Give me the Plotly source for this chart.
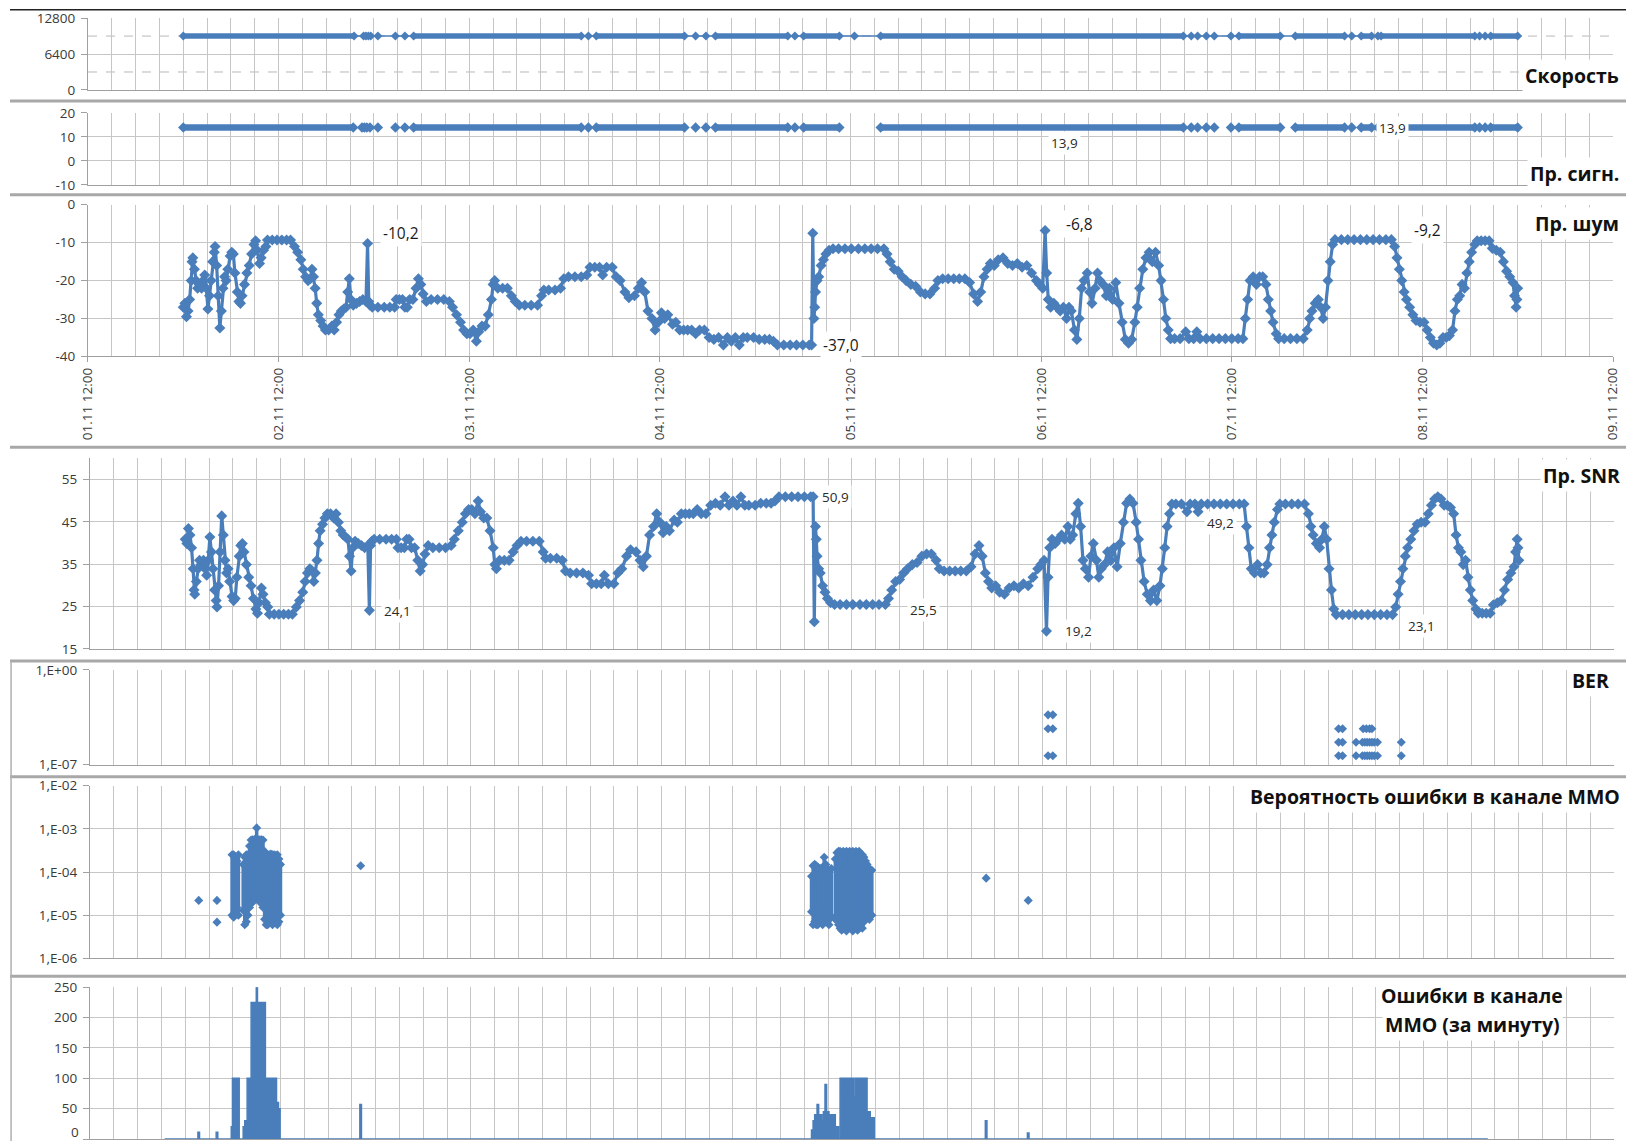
import pandas as pd
import plotly.graph_objects as go

# Target geometry is given in page pixels of a 1626 x 1142 picture.  The page keeps the
# browser's 8 px body margin and the captured view is 1642 x 1158 scaled down to
# 1626 x 1142, so page positions are converted to figure pixels below.
PAGE_W, PAGE_H = 1626, 1142
OFF = 8
SX = PAGE_W / (PAGE_W + 2 * OFF)
SY = PAGE_H / (PAGE_H + 2 * OFF)
FW = PAGE_W + OFF
FH = PAGE_H + OFF

BLUE = "#4A7EBB"
GRID = "#C6C6C6"
AXIS = "#A0A0A0"
FONT = "Open Sans, Noto Sans, sans-serif"
TICK_FONT = dict(family=FONT, size=13.5, color="#3A3A3A")
TITLE_FONT = dict(family=FONT, size=19.5, color="#111111")

X_START = pd.Timestamp("2013-11-01 12:00")
X_END = pd.Timestamp("2013-11-09 12:00")
T0 = pd.Timestamp("2013-11-02 00:00")          # hour 0 of the log

# ---------------- data (hours since T0) ----------------
SPEED_BPS = 9600
SPEED_RUN_START = [0.0, 29.0, 52.0, 67.0, 78.1, 87.8, 132.9, 140.0, 148.3, 150.8, 164.6]
SPEED_RUN_END = [21.5, 50.1, 63.1, 76.1, 82.6, 125.9, 138.1, 146.2, 149.6, 162.6, 168.0]
SPEED_SINGLE_H = [22.7, 23.0, 23.3, 23.6, 24.5, 26.7, 27.9, 51.0, 64.5, 65.8, 77.0,
                  84.5, 126.9, 127.7, 128.8, 129.8, 131.9, 147.1, 150.4, 163.2, 163.9]

SIGNAL_DB = 13.9
SIGNAL_RUN_START = [0.0, 29.0, 52.0, 67.0, 78.1, 87.8, 132.9, 140.0, 148.3, 150.8, 164.6]
SIGNAL_RUN_END = [21.4, 50.1, 63.1, 76.1, 82.6, 125.9, 138.1, 146.2, 149.6, 162.6, 168.0]
SIGNAL_SINGLE_H = [22.5, 22.8, 23.1, 23.5, 24.5, 26.7, 27.9, 51.0, 64.5, 65.8, 77.0,
                   126.9, 127.7, 128.8, 129.8, 131.9, 147.1, 150.4, 163.2, 163.9]
SIGNAL_LABEL_H = [110.9, 152.3]

NOISE_H = [
    0.0, 0.2, 0.4, 0.6, 0.8, 1.0, 1.1, 1.2, 1.4, 1.6,
    1.8, 2.0, 2.3, 2.5, 2.7, 2.9, 3.1, 3.3, 3.5, 3.7,
    3.9, 4.0, 4.2, 4.4, 4.6, 4.8, 5.0, 5.2, 5.4, 5.6,
    5.9, 6.1, 6.3, 6.5, 6.8, 7.0, 7.2, 7.4, 7.7, 8.0,
    8.3, 8.6, 8.9, 9.1, 9.3, 9.6, 9.8, 10.1, 10.4, 10.6,
    11.2, 11.8, 12.4, 13.0, 13.5, 14.0, 14.4, 14.8, 15.1, 15.4,
    15.7, 16.0, 16.2, 16.4, 16.6, 16.8, 17.0, 17.3, 17.6, 17.9,
    18.3, 18.7, 19.0, 19.3, 19.6, 19.9, 20.2, 20.5, 20.7, 20.9,
    21.1, 21.4, 21.8, 22.2, 22.6, 23.0, 23.2, 23.35, 23.5, 23.8,
    24.5, 25.3, 26.0, 26.6, 26.8, 27.2, 27.6, 27.9, 28.2, 28.5,
    28.9, 29.3, 29.6, 29.9, 30.2, 30.6, 31.2, 32.0, 32.8, 33.5,
    33.9, 34.4, 34.9, 35.3, 35.7, 36.1, 36.5, 36.9, 37.2, 37.6,
    38.0, 38.4, 38.8, 39.0, 39.2, 39.6, 40.2, 40.8, 41.3, 41.8,
    42.3, 43.0, 43.8, 44.6, 45.1, 45.4, 46.0, 46.8, 47.5, 47.9,
    48.5, 49.3, 50.1, 50.8, 51.2, 51.8, 52.4, 52.8, 53.3, 54.0,
    54.5, 55.0, 55.6, 56.1, 56.8, 57.3, 57.7, 58.1, 58.5, 59.0,
    59.4, 59.8, 60.2, 60.6, 61.0, 61.6, 62.0, 62.5, 63.0, 63.5,
    64.0, 64.5, 65.0, 65.6, 66.2, 66.8, 67.4, 68.0, 68.5, 69.0,
    69.5, 70.0, 70.5, 71.0, 71.8, 72.5, 73.2, 73.8, 74.3, 74.8,
    75.6, 76.4, 77.2, 78.0, 78.8, 79.1, 79.25, 79.4, 79.5, 79.6,
    79.8, 80.0, 80.3, 80.6, 80.9, 81.3, 81.8, 82.5, 83.3, 84.1,
    85.0, 85.8, 86.6, 87.4, 88.2, 88.6, 89.0, 89.5, 90.0, 90.5,
    91.0, 91.6, 92.2, 92.8, 93.4, 94.0, 94.6, 95.0, 95.6, 96.3,
    97.0, 97.7, 98.4, 99.0, 99.5, 100.0, 100.4, 100.8, 101.2, 101.6,
    102.1, 102.6, 103.2, 103.8, 104.4, 105.0, 105.6, 106.2, 106.8, 107.4,
    107.8, 108.2, 108.5, 108.7, 108.9, 109.2, 109.6, 110.0, 110.4, 110.8,
    111.2, 111.5, 111.8, 112.2, 112.5, 112.8, 113.1, 113.4, 113.8, 114.1,
    114.4, 114.8, 115.1, 115.4, 115.8, 116.2, 116.6, 117.0, 117.4, 117.8,
    118.2, 118.6, 119.0, 119.4, 119.8, 120.1, 120.4, 120.8, 121.2, 121.6,
    122.0, 122.4, 122.8, 123.1, 123.4, 123.7, 124.0, 124.3, 124.8, 125.5,
    126.2, 126.6, 127.2, 127.6, 128.0, 128.8, 129.6, 130.4, 131.2, 132.0,
    132.8, 133.4, 133.7, 134.0, 134.3, 134.7, 135.1, 135.5, 135.9, 136.3,
    136.6, 136.9, 137.2, 137.6, 137.9, 138.6, 139.4, 140.2, 141.0, 141.5,
    141.8, 142.1, 142.5, 142.9, 143.2, 143.5, 143.8, 144.1, 144.4, 144.7,
    145.0, 145.8, 146.6, 147.4, 148.2, 149.0, 149.8, 150.6, 151.4, 152.1,
    152.5, 152.8, 153.1, 153.4, 153.7, 154.0, 154.4, 154.8, 155.2, 155.7,
    156.2, 156.6, 157.0, 157.4, 157.8, 158.2, 158.6, 159.0, 159.4, 159.8,
    160.1, 160.4, 160.7, 161.0, 161.3, 161.6, 161.9, 162.2, 162.6, 162.9,
    163.4, 163.9, 164.4, 164.8, 165.3, 165.8, 166.2, 166.6, 167.0, 167.4,
    167.6, 167.8, 167.9, 168.0,
]

NOISE_DB = [
    -27, -26, -29.5, -28, -25, -20, -15, -14, -17, -20,
    -22, -21, -22, -20, -18.5, -22, -27.5, -24, -20, -15,
    -12.5, -11, -16, -24, -32.5, -28, -22, -19, -20, -17,
    -13.5, -12.5, -13, -18, -23, -25.5, -26, -24, -21, -18,
    -16, -13, -10.5, -9.5, -12, -15.5, -14, -12, -11, -9.3,
    -9.3, -9.3, -9.3, -9.3, -9.3, -11, -12.5, -14.5, -17, -19,
    -20, -19.5, -17, -19, -22, -26, -29, -30.5, -32, -33,
    -33, -32, -33, -31, -29, -28, -27.5, -27, -23, -19.5,
    -25, -26.5, -26, -25.5, -25, -25.5, -10.2, -25.5, -26.5, -27,
    -27, -27, -27, -27, -25, -25, -25, -27, -27, -25,
    -25, -22, -19.5, -21, -23.5, -25.5, -25, -25, -25, -25.5,
    -27, -29, -31, -33, -34, -34, -33, -36, -33.5, -32,
    -32, -29, -25, -21, -20, -22, -22, -22, -24, -25.5,
    -26.5, -26.5, -26.5, -26.5, -24, -22.5, -22.5, -22.5, -22, -19.5,
    -19, -19, -19, -18.5, -16.5, -16.5, -16.5, -18.5, -16.5, -16.5,
    -19, -20, -23, -24.5, -24, -22, -20.5, -23, -28, -30,
    -33, -31, -28.5, -30, -29, -31.5, -31, -33, -33, -33,
    -33, -34, -33, -33, -35, -35.5, -35, -37, -35, -36,
    -35, -37, -35, -35, -35, -35.5, -35.5, -35.5, -36, -37,
    -37, -37, -37, -37, -37, -37.0, -7.5, -30, -27, -23,
    -20, -19, -16, -14.5, -13, -12, -11.6, -11.6, -11.6, -11.6,
    -11.6, -11.6, -11.6, -11.6, -11.6, -13, -15, -17, -17.5, -19,
    -20, -21, -21.5, -23, -23.5, -23.5, -22, -20, -19.5, -19.5,
    -19.5, -19.5, -19.5, -20.5, -23.5, -25.5, -23, -19, -17, -15.5,
    -16, -14.5, -14, -15.5, -16, -15.5, -16.5, -16, -18, -20,
    -21, -22, -6.8, -18, -25, -27, -26, -27, -28, -27,
    -30, -27, -28, -33, -35.5, -30, -22, -20, -18, -23,
    -26, -22, -18, -20, -21, -24, -22, -25, -20.5, -26,
    -31, -35.5, -36.5, -35.5, -31, -27, -22, -17, -14, -12.5,
    -15, -12.5, -16, -20, -25, -30, -33, -35.3, -35.3, -35.3,
    -33.5, -35.3, -35.3, -33.5, -35.3, -35.3, -35.3, -35.3, -35.3, -35.3,
    -35.3, -35.3, -30, -25, -20, -19, -21, -19, -19, -21,
    -25, -28, -31, -34, -35.3, -35.3, -35.3, -35.3, -35.3, -33,
    -30, -28, -26, -25, -27, -30, -27, -20, -15, -10.5,
    -9.2, -9.2, -9.2, -9.2, -9.2, -9.2, -9.2, -9.2, -9.2, -9.2,
    -11, -14, -17, -20, -23, -25, -27, -29, -30.5, -31,
    -31, -33, -35, -36.5, -37, -36.5, -35, -35, -34.5, -33,
    -28, -25, -24, -21, -22, -18, -15, -12.5, -10.5, -9.5,
    -9.5, -9.5, -9.5, -11.5, -12, -12.5, -15, -17.5, -19, -20.5,
    -24, -27, -25, -22,
]
NOISE_LABEL_H = [23.2, 79.1, 108.5, 152.1]

SNR_DB = [
    40.9, 39.9, 43.4, 41.9, 38.9, 33.9, 28.9, 27.9, 30.9, 33.9,
    35.9, 34.9, 35.9, 33.9, 32.4, 35.9, 41.4, 37.9, 33.9, 28.9,
    26.4, 24.9, 29.9, 37.9, 46.4, 41.9, 35.9, 32.9, 33.9, 30.9,
    27.4, 26.4, 26.9, 31.9, 36.9, 39.4, 39.9, 37.9, 34.9, 31.9,
    29.9, 26.9, 24.4, 23.4, 25.9, 29.4, 27.9, 25.9, 24.9, 23.2,
    23.2, 23.2, 23.2, 23.2, 23.2, 24.9, 26.4, 28.4, 30.9, 32.9,
    33.9, 33.4, 30.9, 32.9, 35.9, 39.9, 42.9, 44.4, 45.9, 46.9,
    46.9, 45.9, 46.9, 44.9, 42.9, 41.9, 41.4, 40.9, 36.9, 33.4,
    38.9, 40.4, 39.9, 39.4, 38.9, 39.4, 24.1, 39.4, 40.4, 40.9,
    40.9, 40.9, 40.9, 40.9, 38.9, 38.9, 38.9, 40.9, 40.9, 38.9,
    38.9, 35.9, 33.4, 34.9, 37.4, 39.4, 38.9, 38.9, 38.9, 39.4,
    40.9, 42.9, 44.9, 46.9, 47.9, 47.9, 46.9, 49.9, 47.4, 45.9,
    45.9, 42.9, 38.9, 34.9, 33.9, 35.9, 35.9, 35.9, 37.9, 39.4,
    40.4, 40.4, 40.4, 40.4, 37.9, 36.4, 36.4, 36.4, 35.9, 33.4,
    32.9, 32.9, 32.9, 32.4, 30.4, 30.4, 30.4, 32.4, 30.4, 30.4,
    32.9, 33.9, 36.9, 38.4, 37.9, 35.9, 34.4, 36.9, 41.9, 43.9,
    46.9, 44.9, 42.4, 43.9, 42.9, 45.4, 44.9, 46.9, 46.9, 46.9,
    46.9, 47.9, 46.9, 46.9, 48.9, 49.4, 48.9, 50.9, 48.9, 49.9,
    48.9, 50.9, 48.9, 48.9, 48.9, 49.4, 49.4, 49.4, 49.9, 50.9,
    50.9, 50.9, 50.9, 50.9, 50.9, 50.9, 21.4, 43.9, 40.9, 36.9,
    33.9, 32.9, 29.9, 28.4, 26.9, 25.9, 25.5, 25.5, 25.5, 25.5,
    25.5, 25.5, 25.5, 25.5, 25.5, 26.9, 28.9, 30.9, 31.4, 32.9,
    33.9, 34.9, 35.4, 36.9, 37.4, 37.4, 35.9, 33.9, 33.4, 33.4,
    33.4, 33.4, 33.4, 34.4, 37.4, 39.4, 36.9, 32.9, 30.9, 29.4,
    29.9, 28.4, 27.9, 29.4, 29.9, 29.4, 30.4, 29.9, 31.9, 33.9,
    34.9, 35.9, 19.2, 31.9, 38.9, 40.9, 39.9, 40.9, 41.9, 40.9,
    43.9, 40.9, 41.9, 46.9, 49.4, 43.9, 35.9, 33.9, 31.9, 36.9,
    39.9, 35.9, 31.9, 33.9, 34.9, 37.9, 35.9, 38.9, 34.4, 39.9,
    44.9, 49.4, 50.4, 49.4, 44.9, 40.9, 35.9, 30.9, 27.9, 26.4,
    28.9, 26.4, 29.9, 33.9, 38.9, 43.9, 46.9, 49.2, 49.2, 49.2,
    47.4, 49.2, 49.2, 47.4, 49.2, 49.2, 49.2, 49.2, 49.2, 49.2,
    49.2, 49.2, 43.9, 38.9, 33.9, 32.9, 34.9, 32.9, 32.9, 34.9,
    38.9, 41.9, 44.9, 47.9, 49.2, 49.2, 49.2, 49.2, 49.2, 46.9,
    43.9, 41.9, 39.9, 38.9, 40.9, 43.9, 40.9, 33.9, 28.9, 24.4,
    23.1, 23.1, 23.1, 23.1, 23.1, 23.1, 23.1, 23.1, 23.1, 23.1,
    24.9, 27.9, 30.9, 33.9, 36.9, 38.9, 40.9, 42.9, 44.4, 44.9,
    44.9, 46.9, 48.9, 50.4, 50.9, 50.4, 48.9, 48.9, 48.4, 46.9,
    41.9, 38.9, 37.9, 34.9, 35.9, 31.9, 28.9, 26.4, 24.4, 23.4,
    23.4, 23.4, 23.4, 25.4, 25.9, 26.4, 28.9, 31.4, 32.9, 34.4,
    37.9, 40.9, 38.9, 35.9,
]
SNR_LABEL_H = [23.2, 79.1, 88.2, 108.5, 130.4, 152.1]

BER_H = [108.7, 109.3,
         108.7, 109.3, 145.3, 145.8, 148.4, 148.8, 149.2, 149.5,
         145.3, 145.8, 147.5, 148.3, 148.6, 148.9, 149.2, 149.5, 149.8, 150.2, 153.2,
         108.7, 109.3, 145.3, 145.8, 147.5, 148.3, 148.6, 148.9, 149.2, 149.5, 149.8, 150.2, 153.2]
BER_VAL = [4.8e-4, 4.8e-4,
           4.5e-5, 4.5e-5, 4.5e-5, 4.5e-5, 4.5e-5, 4.5e-5, 4.5e-5, 4.5e-5,
           4.6e-6, 4.6e-6, 4.6e-6, 4.6e-6, 4.6e-6, 4.6e-6, 4.6e-6, 4.6e-6, 4.6e-6, 4.6e-6, 4.6e-6,
           4.6e-7, 4.6e-7, 4.6e-7, 4.6e-7, 4.6e-7, 4.6e-7, 4.6e-7, 4.6e-7, 4.6e-7, 4.6e-7, 4.6e-7, 4.6e-7, 4.6e-7]

# MMO error probability: per-interval spread (min / max) inside the bursts
MMO_COL_H = [5.9, 6.1, 6.3, 6.5, 6.7,
             7.3, 7.5, 7.7, 7.9, 8.1, 8.3, 8.5, 8.7, 8.9, 9.0, 9.2, 9.4, 9.6, 9.8,
             10.0, 10.2, 10.4, 10.6, 10.8, 11.0, 11.2, 11.4, 11.6, 11.8, 12.0,
             78.9, 79.1, 79.3, 79.5, 79.7, 79.9, 80.1, 80.3, 80.5, 80.7, 80.9, 81.1, 81.4,
             81.9, 82.1, 82.3, 82.5, 82.7, 82.9, 83.1, 83.3, 83.5, 83.7, 83.9, 84.1, 84.3,
             84.5, 84.7, 84.9, 85.1, 85.3, 85.5, 85.7, 85.9, 86.2, 86.5]
MMO_COL_LO = [1.0e-5, 9e-6, 1.2e-5, 1.5e-5, 1.0e-5,
              1.3e-5, 6e-6, 7e-6, 1e-5, 1.5e-5, 2e-5, 2e-5, 2.5e-5, 2.5e-5, 3e-5, 2.5e-5, 2e-5, 2e-5, 1.5e-5,
              8e-6, 6e-6, 6e-6, 8e-6, 7e-6, 6e-6, 8e-6, 7e-6, 6e-6, 7e-6, 1e-5,
              1.2e-5, 6e-6, 7e-6, 6e-6, 6e-6, 8e-6, 7e-6, 6e-6, 1e-5, 8e-6, 7e-6, 6e-6, 9e-6,
              8e-6, 1e-5, 6e-6, 5e-6, 4.5e-6, 5e-6, 6e-6, 4.3e-6, 5e-6, 6e-6, 5e-6, 4.3e-6, 5e-6,
              6e-6, 4.5e-6, 5e-6, 6e-6, 5e-6, 7e-6, 8e-6, 1e-5, 8e-6, 1e-5]
MMO_COL_HI = [2.5e-4, 2.5e-4, 2.2e-4, 1.8e-4, 2.5e-4,
              1.5e-4, 2.2e-4, 2.5e-4, 2.5e-4, 4e-4, 5.5e-4, 5.6e-4, 5.6e-4, 6e-4, 1.05e-3, 5.6e-4, 5.6e-4, 5.6e-4, 5.5e-4,
              3e-4, 2.6e-4, 2.5e-4, 2.5e-4, 2.6e-4, 2.5e-4, 2.5e-4, 2.4e-4, 2.5e-4, 2.0e-4, 1.5e-4,
              8e-5, 1.4e-4, 1.5e-4, 1.4e-4, 1.3e-4, 1.2e-4, 1.2e-4, 1.3e-4, 2.2e-4, 1.5e-4, 1.2e-4, 1.0e-4, 1.2e-4,
              2e-4, 2.8e-4, 3e-4, 3e-4, 2.8e-4, 3e-4, 2.8e-4, 3e-4, 2.8e-4, 3e-4, 2.8e-4, 3e-4, 2.7e-4,
              3e-4, 2.8e-4, 3e-4, 2.6e-4, 2.5e-4, 2.2e-4, 1.8e-4, 1.5e-4, 1.2e-4, 1.1e-4]
MMO_PT_H = [1.7, 4.0, 4.0, 22.1, 100.9, 106.2]
MMO_PT_P = [2.2e-5, 2.2e-5, 6.9e-6, 1.4e-4, 7.2e-5, 2.2e-5]

# MMO errors per minute (step values, each holds until the next time)
ERR_H = [-2.6, 1.6, 1.8, 3.9, 4.1, 5.8, 5.95, 6.8, 7.3, 7.5, 7.8, 8.3, 8.95, 9.1, 10.1,
         11.5, 11.75, 11.95, 22.0, 22.2, 78.9, 79.1, 79.3, 79.6, 79.8, 80.2, 80.4, 80.6,
         80.8, 81.1, 81.9, 82.0, 82.3, 82.5, 83.3, 83.45, 84.2, 84.4, 84.8, 84.95, 85.9,
         86.3, 86.8, 100.8, 101.0, 106.1, 106.3, 164.1]
ERR_COUNT = [0, 11, 0, 11, 0, 20, 100, 0, 20, 30, 100, 225, 250, 225, 100,
             60, 50, 0, 57, 0, 15, 30, 40, 57, 40, 30, 45, 90,
             45, 40, 0, 20, 0, 100, 60, 100, 70, 100, 70, 100, 45,
             35, 0, 30, 0, 10, 0, 0]


def at(hours):
    return [None if h is None else T0 + pd.Timedelta(hours=h) for h in hours]


def fmt(v):
    return f"{v:.1f}".replace(".", ",")


def fx(x):
    """page x (px) -> paper fraction"""
    return (x / SX - OFF) / FW


def fy(y):
    """page y (px, downwards) -> paper fraction"""
    return 1 - (y / SY - OFF) / FH


# panel boxes in page pixels: x0, x1, y0 (top), y1 (bottom)
PANELS = {
    1: (86, 1613, 17, 89),
    2: (86, 1613, 112, 184),
    3: (86, 1613, 204, 356),
    4: (88, 1614, 458, 649),
    5: (88, 1614, 670, 765),
    6: (88, 1614, 786, 959),
    7: (88, 1614, 988, 1140),
}

fig = go.Figure()


def ax(i):
    return ("x" if i == 1 else f"x{i}"), ("y" if i == 1 else f"y{i}")


def runs(starts, ends, value):
    xs, ys = [], []
    for s, e in zip(starts, ends):
        xs += [s, e, None]
        ys += [value, value, None]
    return xs, ys


# --- speed ---
xa, ya = ax(1)
all_speed = sorted(SPEED_RUN_START + SPEED_RUN_END + SPEED_SINGLE_H)
fig.add_trace(go.Scatter(x=at(all_speed), y=[SPEED_BPS] * len(all_speed), mode="lines",
                         line=dict(color=BLUE, width=1.5), xaxis=xa, yaxis=ya, hoverinfo="skip"))
rx, ry = runs(SPEED_RUN_START, SPEED_RUN_END, SPEED_BPS)
fig.add_trace(go.Scatter(x=at(rx), y=ry, mode="lines", line=dict(color=BLUE, width=5.5),
                         xaxis=xa, yaxis=ya, hoverinfo="skip"))
pts = SPEED_RUN_START + SPEED_RUN_END + SPEED_SINGLE_H
fig.add_trace(go.Scatter(x=at(pts), y=[SPEED_BPS] * len(pts), mode="markers",
                         marker=dict(symbol="diamond", size=7, color=BLUE),
                         xaxis=xa, yaxis=ya, hoverinfo="skip"))

# --- received signal ---
xa, ya = ax(2)
rx, ry = runs(SIGNAL_RUN_START, SIGNAL_RUN_END, SIGNAL_DB)
fig.add_trace(go.Scatter(x=at(rx), y=ry, mode="lines", line=dict(color=BLUE, width=6.5),
                         xaxis=xa, yaxis=ya, hoverinfo="skip"))
pts = SIGNAL_RUN_START + SIGNAL_RUN_END + SIGNAL_SINGLE_H
fig.add_trace(go.Scatter(x=at(pts), y=[SIGNAL_DB] * len(pts), mode="markers",
                         marker=dict(symbol="diamond", size=8, color=BLUE),
                         xaxis=xa, yaxis=ya, hoverinfo="skip"))

# --- noise and SNR ---
for i, vals in ((3, NOISE_DB), (4, SNR_DB)):
    xa, ya = ax(i)
    fig.add_trace(go.Scatter(x=at(NOISE_H), y=vals, mode="lines+markers",
                             line=dict(color=BLUE, width=3.2),
                             marker=dict(symbol="diamond", size=8.5, color=BLUE),
                             xaxis=xa, yaxis=ya, hoverinfo="skip"))

# --- BER ---
xa, ya = ax(5)
fig.add_trace(go.Scatter(x=at(BER_H), y=BER_VAL, mode="markers",
                         marker=dict(symbol="diamond", size=7, color=BLUE),
                         xaxis=xa, yaxis=ya, hoverinfo="skip"))

# --- MMO error probability ---
xa, ya = ax(6)
cx, cy = [], []
for h, lo, hi in zip(MMO_COL_H, MMO_COL_LO, MMO_COL_HI):
    cx += [h, h, None]
    cy += [lo, hi, None]
fig.add_trace(go.Scatter(x=at(cx), y=cy, mode="lines", line=dict(color=BLUE, width=3.5),
                         xaxis=xa, yaxis=ya, hoverinfo="skip"))
fig.add_trace(go.Scatter(x=at(MMO_COL_H + MMO_COL_H), y=MMO_COL_LO + MMO_COL_HI, mode="markers",
                         marker=dict(symbol="diamond", size=7, color=BLUE),
                         xaxis=xa, yaxis=ya, hoverinfo="skip"))
fig.add_trace(go.Scatter(x=at(MMO_PT_H), y=MMO_PT_P, mode="markers",
                         marker=dict(symbol="diamond", size=7, color=BLUE),
                         xaxis=xa, yaxis=ya, hoverinfo="skip"))

# --- MMO errors per minute ---
xa, ya = ax(7)
fig.add_trace(go.Scatter(x=at(ERR_H), y=ERR_COUNT, mode="lines", line_shape="hv",
                         line=dict(color=BLUE, width=1.5), fill="tozeroy", fillcolor=BLUE,
                         xaxis=xa, yaxis=ya, hoverinfo="skip"))

# ---------------- axes ----------------
ERR_TICKS = [0, 50, 100, 150, 200, 250]
Y_SPECS = {
    1: dict(range=[0, 12800], tickvals=[0, 6400, 12800]),
    2: dict(range=[-10, 20], tickvals=[-10, 0, 10, 20]),
    3: dict(range=[-40, 0], tickvals=[-40, -30, -20, -10, 0]),
    4: dict(range=[15, 60], tickvals=[15, 25, 35, 45, 55]),
    5: dict(type="log", range=[-7, 0], tickvals=[1e-7, 1], ticktext=["1,E-07", "1,E+00"]),
    6: dict(type="log", range=[-6, -2], tickvals=[1e-6, 1e-5, 1e-4, 1e-3, 1e-2],
            ticktext=["1,E-06", "1,E-05", "1,E-04", "1,E-03", "1,E-02"]),
    # the bottom "0" sits at the page edge; it is written separately just above it
    7: dict(range=[0, 250], tickvals=ERR_TICKS,
            ticktext=[""] + [str(v) for v in ERR_TICKS[1:]]),
}

layout = {}
for i, (x0, x1, y0, y1) in PANELS.items():
    xname = "xaxis" if i == 1 else f"xaxis{i}"
    yname = "yaxis" if i == 1 else f"yaxis{i}"
    xa, ya = ax(i)
    xd = dict(domain=[fx(x0), fx(x1)], anchor=ya, type="date",
              range=[X_START, X_END], tick0=X_START, dtick=86400000,
              showgrid=True, gridcolor=GRID, gridwidth=1,
              minor=dict(tick0=X_START, dtick=3 * 3600000, showgrid=True,
                         gridcolor=GRID, gridwidth=1),
              showline=True, linecolor=AXIS, linewidth=1, zeroline=False,
              showticklabels=False, ticks="", fixedrange=True)
    if i == 3:
        xd.update(showticklabels=True, tickformat="%d.%m %H:%M", tickangle=-90,
                  ticks="outside", ticklen=5, tickcolor=AXIS, tickfont=TICK_FONT)
    yd = dict(domain=[fy(y1), fy(y0)], anchor=xa,
              showgrid=True, gridcolor=GRID, gridwidth=1,
              showline=True, linecolor=AXIS, linewidth=1, zeroline=False,
              ticks="outside", ticklen=6, tickcolor=AXIS, tickfont=TICK_FONT,
              ticklabelstandoff=3, fixedrange=True, tickmode="array")
    yd.update(Y_SPECS[i])
    if "ticktext" not in yd:
        yd["ticktext"] = [str(v) for v in yd["tickvals"]]   # plain hyphen-minus, no SI suffix
    layout[xname] = xd
    layout[yname] = yd

# ---------------- annotations ----------------
ann = []

TITLES = [
    ("Скорость", 1622, 75, "right"),
    ("Пр. сигн.", 1622, 173, "right"),
    ("Пр. шум", 1622, 223, "right"),
    ("Пр. SNR", 1623, 475, "right"),
    ("BER", 1612, 681, "right"),
    ("Вероятность ошибки в канале ММО", 1623, 797, "right"),
    ("Ошибки в канале", 1472, 996, "center"),
    ("ММО (за минуту)", 1472, 1025, "center"),
]
for text, x, y, anchor in TITLES:
    ann.append(dict(text=f"<b>{text}</b>", x=fx(x), y=fy(y), xref="paper", yref="paper",
                    xanchor=anchor, yanchor="middle", showarrow=False, align="center",
                    font=TITLE_FONT, bgcolor="white", borderpad=2))

# lowest tick label of the error-count chart, kept inside the page
ann.append(dict(text=str(ERR_TICKS[0]), x=fx(PANELS[7][0] - 9), y=fy(1133), xref="paper",
                yref="paper", xanchor="right", yanchor="middle", showarrow=False,
                font=TICK_FONT))

LABEL_FONT_BIG = dict(family=FONT, size=15.5, color="#1A1A1A")
LABEL_FONT = dict(family=FONT, size=13.5, color="#2A2A2A")

# noise labels
for h, (dx, dy) in zip(NOISE_LABEL_H, [(12, 10), (8, 0), (18, 7), (20, 10)]):
    v = NOISE_DB[NOISE_H.index(h)]
    ann.append(dict(text=fmt(v), x=T0 + pd.Timedelta(hours=h), y=v, xref="x3", yref="y3",
                    xanchor="left", yanchor="middle", xshift=dx, yshift=dy, showarrow=False,
                    font=LABEL_FONT_BIG, bgcolor="white", borderpad=2))

# SNR labels
snr_offsets = [(12, -1), (6, 0), (22, -6), (16, 0), (0, -19), (12, -11)]
for h, (dx, dy) in zip(SNR_LABEL_H, snr_offsets):
    v = SNR_DB[NOISE_H.index(h)]
    anchor = "center" if dx == 0 else "left"
    ann.append(dict(text=fmt(v), x=T0 + pd.Timedelta(hours=h), y=v, xref="x4", yref="y4",
                    xanchor=anchor, yanchor="middle", xshift=dx, yshift=dy, showarrow=False,
                    font=LABEL_FONT, bgcolor="white", borderpad=2))

# signal labels
for h, dy in zip(SIGNAL_LABEL_H, [-15, 0]):
    ann.append(dict(text=fmt(SIGNAL_DB), x=T0 + pd.Timedelta(hours=h), y=SIGNAL_DB,
                    xref="x2", yref="y2", xanchor="center", yanchor="middle", yshift=dy,
                    showarrow=False, font=LABEL_FONT, bgcolor="white", borderpad=2))

# ---------------- decorations ----------------
shapes = []
# cell border row at the top of the sheet
shapes.append(dict(type="line", xref="paper", yref="paper", x0=0, x1=1, y0=1 - 0.8 / FH,
                   y1=1 - 0.8 / FH, line=dict(color="#222222", width=1.5)))
# chart frame separators
for y in [100, 194, 447, 661, 777, 977]:
    shapes.append(dict(type="line", xref="paper", yref="paper", x0=0, x1=1, y0=fy(y), y1=fy(y),
                       line=dict(color="#A8A8A8", width=3)))
shapes.append(dict(type="line", xref="paper", yref="paper", x0=fx(9), x1=fx(9), y0=fy(661), y1=0,
                   line=dict(color="#B0B0B0", width=1.5)))
# dashed minor levels on the speed chart
for lvl in [3200, 9600]:
    shapes.append(dict(type="line", xref="x domain", yref="y", x0=0, x1=1, y0=lvl, y1=lvl,
                       line=dict(color="#B8B8B8", width=1, dash="dash"), layer="below"))

fig.update_layout(
    width=FW, height=FH, autosize=False,
    margin=dict(l=0, r=0, t=0, b=0),
    paper_bgcolor="white", plot_bgcolor="rgba(0,0,0,0)",
    showlegend=False, annotations=ann, shapes=shapes,
    **layout,
)

fig.write_html("out.html", config={"displayModeBar": False, "staticPlot": True})
